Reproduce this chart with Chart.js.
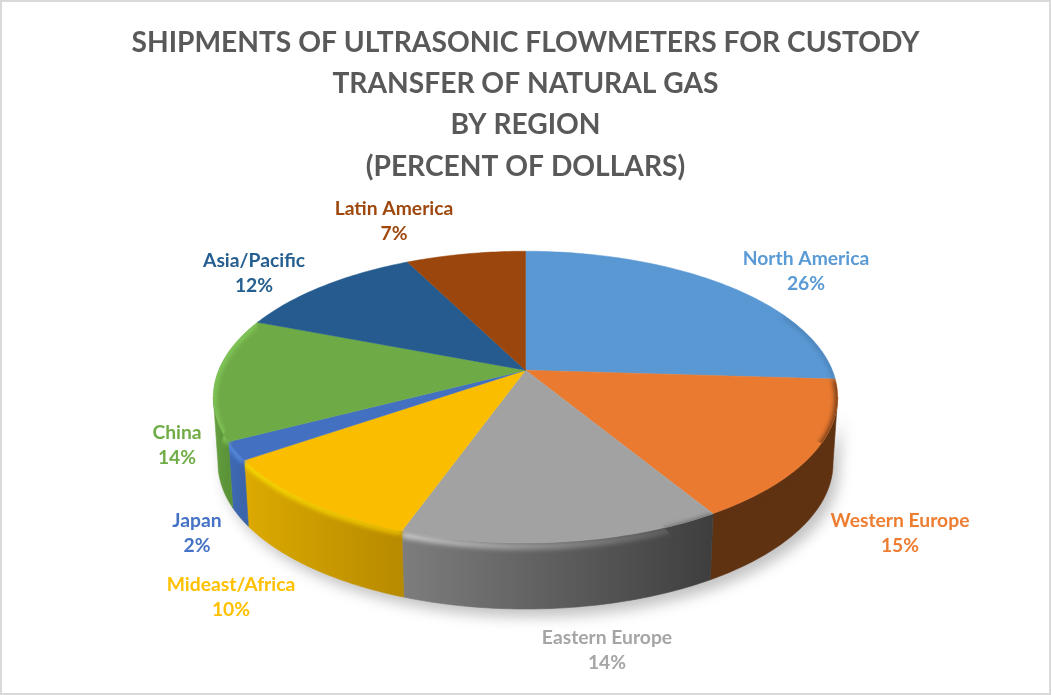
<!DOCTYPE html>
<html>
<head>
<meta charset="utf-8">
<script src="https://cdn.jsdelivr.net/npm/chart.js@4"></script>
<style>
  body { margin: 0; background: #fff; }
  #wrap { position: relative; width: 1051px; height: 695px; box-shadow: inset 0 0 0 2px #d9d9d9; }
  canvas { position: absolute; left: 0; top: 0; }
</style>
</head>
<body>
<div id="wrap"><canvas id="regionChart" width="1051" height="695"></canvas></div>
<script>
const titleLines = [
    "SHIPMENTS OF ULTRASONIC FLOWMETERS FOR CUSTODY",
    "TRANSFER OF NATURAL GAS",
    "BY REGION",
    "(PERCENT OF DOLLARS)"
];
const regions = ["North America", "Western Europe", "Eastern Europe", "Mideast/Africa", "Japan", "China", "Asia/Pacific", "Latin America"];
const shares = [26, 15.4, 14, 9.9, 2, 13.6, 11.7, 7.4];

const sliceColors = ["#5b9bd5", "#ed7d31", "#a5a5a5", "#ffc000", "#4472c4", "#70ad47", "#255e91", "#9e480e"];
const topColors = ["#5a98d4", "#ea7a30", "#a2a2a2", "#fbbd00", "#4370c0", "#6eaa46", "#255b8e", "#9a460d"];

// wall shading left to right, null where the slice has no visible side
const wallShades = [null, ["#5f3212", "#5f3212"], ["#7d7d7d", "#3e3e3e"], ["#dcaa00", "#b78a00"], ["#3f6ab4", "#3b64aa"], ["#66a040", "#5a9238"], null, null];
// bevel along the front rim: start colour, end colour, line width
const bevels = [["#3a6a96", "#3a6a96", 2], ["#5f3212", "#5f3212", 5], ["#d0d0d0", "#505050", 6], ["#ffe600", "#f7c800", 5], ["#5a92ea", "#5a92ea", 5], ["#86cc5c", "#86cc5c", 5], null, null];

// label centres, name line then percent line
const labelAnchors = [[806, 259], [900, 521], [607, 638], [231, 585], [197, 521], [177, 433], [254, 261], [394, 209]];
const LABEL_LINE = 25;

// perspective of the tilted disc
const TILT = 0.185;
const SCALE_X = 307 / 180;
const SCALE_Y = 141 / 180;
const DEPTH = 66;
const BOTTOM_SHRINK = 0.985;

// pie angle to page position, drop = 0 top rim, drop = 1 bottom rim
function project(arc, angle, drop) {
    const w = 1 - TILT * Math.sin(angle);
    const k = 1 - (1 - BOTTOM_SHRINK) * drop;
    return {
        x: arc.x + k * arc.outerRadius * SCALE_X * Math.cos(angle) / w,
        y: arc.y + arc.outerRadius * SCALE_Y * Math.sin(angle) / w + DEPTH * drop
    };
}

function traceRim(ctx, arc, from, to, drop, moveFirst) {
    const steps = Math.max(8, Math.ceil(Math.abs(to - from) * 60));
    for (let i = 0; i <= steps; i++) {
        const p = project(arc, from + (to - from) * i / steps, drop);
        if (i === 0 && moveFirst) ctx.moveTo(p.x, p.y);
        else ctx.lineTo(p.x, p.y);
    }
}

function traceWall(ctx, arc, from, to) {
    ctx.beginPath();
    traceRim(ctx, arc, from, to, 0, true);
    traceRim(ctx, arc, to, from, 1, false);
    ctx.closePath();
}

function horizontalGradient(ctx, arc, from, to, colors) {
    const a = project(arc, from, 0), b = project(arc, to, 0);
    const g = ctx.createLinearGradient(Math.min(a.x, b.x), 0, Math.max(a.x, b.x), 0);
    g.addColorStop(0, colors[0]);
    g.addColorStop(1, colors[1]);
    return g;
}

const pie3d = {
    id: "pie3d",
    beforeDatasetsDraw(chart) {
        const ctx = chart.ctx;
        const arcs = chart.getDatasetMeta(0).data;
        const first = arcs[0];
        const edge = Math.asin(TILT);

        // soft shadow under the disc
        ctx.save();
        ctx.filter = "blur(7px)";
        ctx.fillStyle = "rgba(0,0,0,0.24)";
        ctx.translate(6, 8);
        traceWall(ctx, first, edge, Math.PI - edge);
        ctx.fill();
        ctx.restore();

        // side walls
        arcs.forEach((arc, i) => {
            if (!wallShades[i]) return;
            const from = Math.max(arc.startAngle, edge);
            const to = Math.min(arc.endAngle, Math.PI - edge);
            if (to <= from) return;
            traceWall(ctx, arc, from, to);
            ctx.fillStyle = horizontalGradient(ctx, arc, from, to, wallShades[i]);
            ctx.fill();
            ctx.strokeStyle = ctx.fillStyle;
            ctx.lineWidth = 0.6;
            ctx.stroke();
        });

        // top faces
        arcs.forEach((arc, i) => {
            ctx.beginPath();
            ctx.moveTo(arc.x, arc.y);
            traceRim(ctx, arc, arc.startAngle, arc.endAngle, 0, false);
            ctx.closePath();
            ctx.fillStyle = topColors[i];
            ctx.fill();
            ctx.strokeStyle = topColors[i];
            ctx.lineWidth = 0.5;
            ctx.stroke();
        });

        // bevel on the rim
        arcs.forEach((arc, i) => {
            if (!bevels[i]) return;
            const [c0, c1, width] = bevels[i];
            const from = i === 0 ? arc.endAngle - 0.5 : arc.startAngle;
            const to = arc.endAngle;
            ctx.save();
            ctx.beginPath();
            ctx.moveTo(arc.x, arc.y);
            traceRim(ctx, arc, arc.startAngle, arc.endAngle, 0, false);
            traceRim(ctx, arc, arc.endAngle, arc.startAngle, 1, false);
            ctx.closePath();
            ctx.clip();
            ctx.filter = "blur(2.5px)";
            ctx.beginPath();
            traceRim(ctx, arc, from, to, i === 2 ? 0.05 : 0.02, true);
            ctx.strokeStyle = horizontalGradient(ctx, arc, from, to, [c0, c1]);
            ctx.lineWidth = width;
            ctx.stroke();
            ctx.restore();
        });

        // data labels
        ctx.font = "bold 19.3px Lato";
        ctx.textAlign = "center";
        ctx.textBaseline = "middle";
        arcs.forEach((arc, i) => {
            const [x, y] = labelAnchors[i];
            ctx.fillStyle = sliceColors[i];
            ctx.fillText(regions[i], x, y);
            ctx.fillText(Math.round(shares[i]) + "%", x, y + LABEL_LINE);
        });
        return false;
    }
};

new Chart(document.getElementById("regionChart").getContext("2d"), {
    type: "pie",
    data: {
        labels: regions,
        datasets: [{ data: shares, backgroundColor: topColors, borderWidth: 0 }]
    },
    options: {
        responsive: false,
        animation: false,
        layout: { padding: { top: 22, bottom: 145 } },
        plugins: {
            legend: { display: false },
            tooltip: { enabled: false },
            title: {
                display: true,
                text: titleLines,
                color: "#595959",
                font: { family: "Lato", size: 28.2, weight: "bold", lineHeight: 1.465 },
                padding: { top: 0, bottom: 3 }
            }
        }
    },
    plugins: [pie3d]
});
</script>
</body>
</html>
